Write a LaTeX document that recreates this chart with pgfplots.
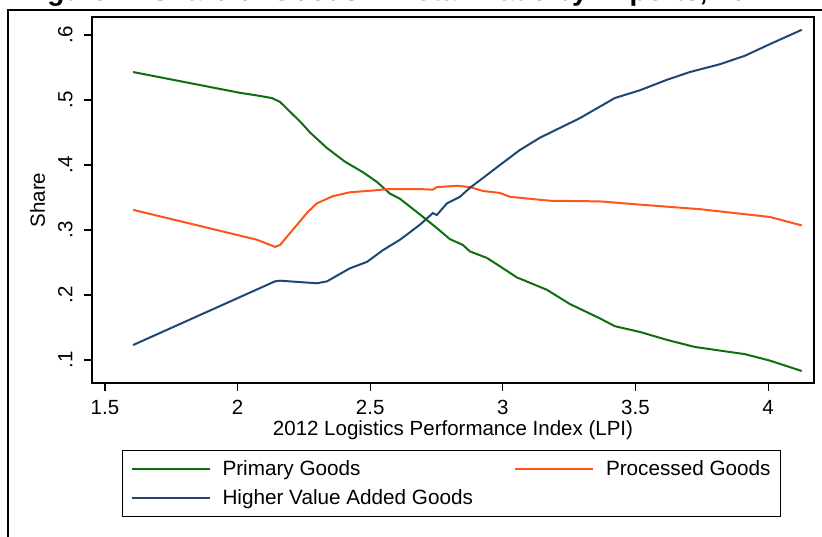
\documentclass[border=0pt]{standalone}
\usepackage{fontspec}
\setmainfont{Liberation Sans}
\usepackage{pgfplots}
\pgfplotsset{compat=1.18}
\definecolor{pgreen}{RGB}{16,110,16}
\definecolor{porange}{RGB}{255,85,25}
\definecolor{pblue}{RGB}{30,72,115}
\begin{document}
\begin{tikzpicture}
\useasboundingbox (0pt,0pt) rectangle (822pt,537pt);
\fill[white] (0pt,0pt) rectangle (822pt,537pt);
\draw[line width=1.3pt] (8pt,-10pt) -- (8pt,527pt) -- (840pt,527pt);
\node[anchor=base, font=\fontsize{28}{32}\selectfont\bfseries] at (400pt,536.5pt) {Figure 1: Share of Goods in Total Trade by Exports, 2012};
\begin{axis}[
  at={(92pt,154pt)}, anchor=south west,
  width=722pt, height=366pt, scale only axis,
  xmin=1.451, xmax=4.173, ymin=0.0646, ymax=0.6277,
  xtick={1.5,2,2.5,3,3.5,4}, xticklabels={1.5,2,2.5,3,3.5,4},
  ytick={0.1,0.2,0.3,0.4,0.5,0.6}, yticklabels={.1,.2,.3,.4,.5,.6},
  /pgf/number format/assume math mode=true,
  tick align=outside, tick pos=left, major tick length=8pt,
  every tick/.style={black, line width=1.2pt},
  axis line style={line width=1.3pt},
  ticklabel style={font=\fontsize{20.5}{24}\selectfont},
  xticklabel style={yshift=-6pt},
  yticklabel style={rotate=90, anchor=south, yshift=8pt},
  xlabel={2012 Logistics Performance Index (LPI)}, ylabel={Share},
  label style={font=\fontsize{20.5}{24}\selectfont},
  xlabel style={yshift=1pt},
  ylabel style={yshift=6pt},
  legend columns=2,
  legend cell align=left,
  legend image code/.code={\draw[#1, line width=2pt] (0pt,0pt) -- (78pt,0pt);},
  legend style={at={(0.0416,-0.183)}, anchor=north west, draw=black, line width=1pt,
    font=\fontsize{20.7}{24}\selectfont, inner xsep=8pt, inner ysep=8.5pt, row sep=8pt,
    nodes={inner sep=2pt},
    /tikz/every odd column/.append style={column sep=10pt},
    /tikz/every even column/.append style={column sep=39pt}},
]
\addplot[pgreen, line width=2pt] coordinates {
(1.606,0.543) (2.009,0.511) (2.073,0.507) (2.129,0.503) (2.160,0.497) (2.200,0.481)
(2.240,0.465) (2.273,0.450) (2.337,0.426) (2.405,0.405) (2.472,0.389) (2.525,0.374)
(2.574,0.356) (2.612,0.348) (2.687,0.324) (2.751,0.303) (2.800,0.286) (2.849,0.277)
(2.876,0.267) (2.940,0.257) (2.978,0.247) (3.053,0.227) (3.166,0.208) (3.253,0.186)
(3.366,0.164) (3.422,0.152) (3.518,0.143) (3.618,0.131) (3.724,0.120) (3.912,0.109)
(4.007,0.099) (4.127,0.083)};
\addlegendentry{Primary Goods}
\addplot[porange, line width=2pt] coordinates {
(1.606,0.331) (2.073,0.285) (2.141,0.274) (2.160,0.277) (2.265,0.328) (2.299,0.341)
(2.359,0.352) (2.423,0.358) (2.488,0.360) (2.574,0.363) (2.687,0.363) (2.736,0.362)
(2.751,0.366) (2.827,0.368) (2.876,0.366) (2.925,0.360) (2.989,0.357) (3.027,0.351)
(3.177,0.345) (3.366,0.344) (3.518,0.339) (3.743,0.332) (4.007,0.320) (4.127,0.307)};
\addlegendentry{Processed Goods}
\addplot[pblue, line width=2pt] coordinates {
(1.606,0.123) (2.141,0.221) (2.160,0.222) (2.299,0.218) (2.337,0.221) (2.423,0.241)
(2.488,0.251) (2.548,0.269) (2.612,0.285) (2.687,0.308) (2.736,0.326) (2.751,0.323)
(2.789,0.341) (2.838,0.351) (2.876,0.365) (2.925,0.380) (2.989,0.400) (3.064,0.423)
(3.140,0.442) (3.290,0.472) (3.422,0.503) (3.517,0.515) (3.618,0.531) (3.705,0.543)
(3.818,0.555) (3.912,0.568) (4.007,0.586) (4.127,0.608)};
\addlegendentry{Higher Value Added Goods}
\end{axis}
\end{tikzpicture}
\end{document}
